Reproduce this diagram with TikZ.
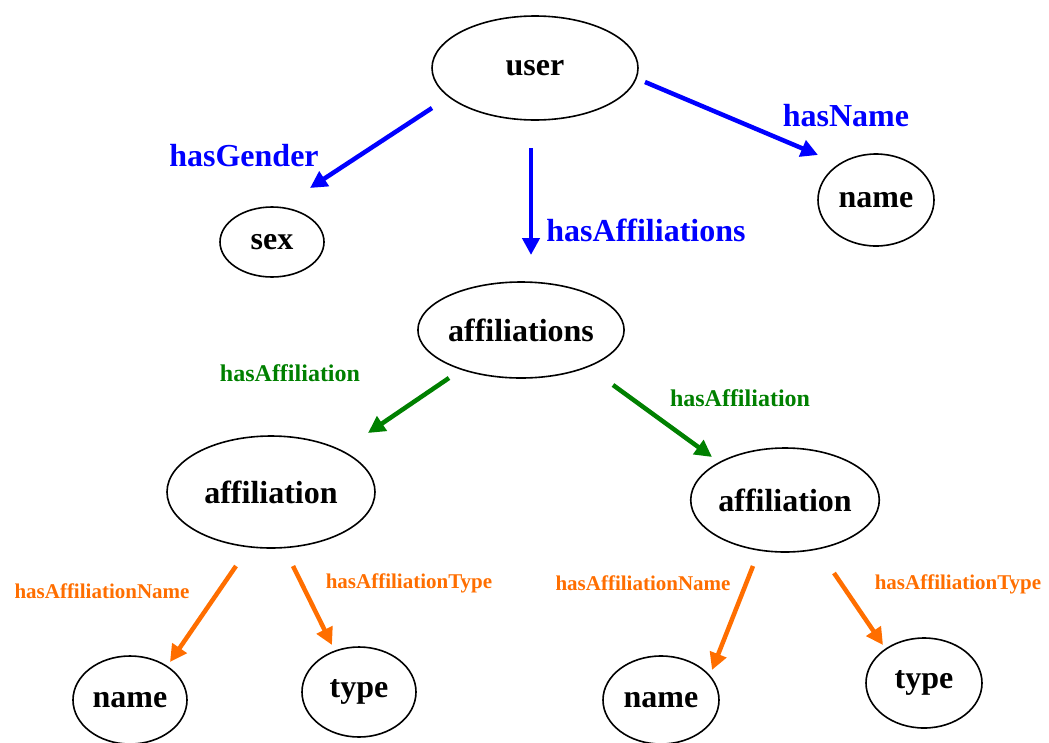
\documentclass[tikz,border=0pt]{standalone}
\usepackage{fontspec}
\setmainfont{Liberation Serif}
\usetikzlibrary{shapes.geometric,arrows.meta,calc}
\definecolor{propblue}{RGB}{0,0,255}
\definecolor{propgreen}{RGB}{0,128,0}
\definecolor{proporange}{RGB}{255,110,0}
\tikzstyle{proplabel} = [
    % fill=white,
    font=\bfseries,
    inner sep=0pt
]

\begin{document}
\begin{tikzpicture}[
        x=1pt, y=-1pt,
        concept/.style n args={2}{
            ellipse, draw=black, line width=1.6pt,
            minimum width=#1,
            minimum height=#2,
            inner sep=0pt,
            font=\fontsize{32}{36}\selectfont\bfseries
        },
        relation/.style={
            -{Triangle[length=17pt,width=17pt]},
            line width=4.5pt, draw=#1
        },
        bigprop/.style={proplabel, text=propblue, font=\fontsize{32}{36}\selectfont\bfseries},
        midprop/.style={proplabel, text=propgreen, font=\fontsize{24}{28}\selectfont\bfseries},
        smallprop/.style={proplabel, text=proporange, font=\fontsize{21}{24}\selectfont\bfseries}
    ]
        \useasboundingbox (0,0) rectangle (1049,742);

        % concepts
        \node[concept={206pt}{104pt}] (user) at (535,68) {user};
        \node[concept={104pt}{70pt}] (sex) at (272,242) {sex};
        \node[concept={116pt}{92pt}] (name) at (876,200) {name};
        \node[concept={196pt}{96pt}] (affs) at (521,330) {affiliations};
        \node[concept={208pt}{112pt}] (affL) at (271,492) {affiliation};
        \node[concept={180pt}{104pt}] (affR) at (785,500) {affiliation};
        \node[concept={114pt}{88pt}] (nameL) at (130,700) {name};
        \node[concept={114pt}{90pt}] (typeL) at (359,692) {type};
        \node[concept={116pt}{88pt}] (nameR) at (661,700) {name};
        \node[concept={116pt}{90pt}] (typeR) at (924,683) {type};

        % properties
        \node[bigprop] (lgender) at (244,156) {hasGender};
        \node[bigprop] (laffs) at (646,230) {hasAffiliations};
        \node[bigprop] (lname) at (846,116) {hasName};
        \node[midprop] (laffL) at (290,373) {hasAffiliation};
        \node[midprop] (laffR) at (740,398) {hasAffiliation};
        \node[smallprop] (lnameL) at (102,591) {hasAffiliationName};
        \node[smallprop] (ltypeL) at (409,583) {hasAffiliationType};
        \node[smallprop] (lnameR) at (643,583) {hasAffiliationName};
        \node[smallprop] (ltypeR) at (958,584) {hasAffiliationType};

        \draw[relation=propblue] ($(user)+(-103,40)$) -- ($(sex)+(38,-54)$);
        \draw[relation=propblue] ($(user)+(-4,80)$) -- ($(affs)+(10,-75)$);
        \draw[relation=propblue] ($(user)+(110,14)$) -- ($(name)+(-58,-45)$);
        \draw[relation=propgreen] ($(affs)+(-72,48)$) -- ($(affL)+(97,-59)$);
        \draw[relation=propgreen] ($(affs)+(92,55)$) -- ($(affR)+(-73,-43)$);
        \draw[relation=proporange] ($(affL)+(-35,74)$) -- ($(nameL)+(40,-38)$);
        \draw[relation=proporange] ($(affL)+(22,74)$) -- ($(typeL)+(-27,-47)$);
        \draw[relation=proporange] ($(affR)+(-32,66)$) -- ($(nameR)+(51,-30)$);
        \draw[relation=proporange] ($(affR)+(49,73)$) -- ($(typeR)+(-41,-38)$);
    \end{tikzpicture}
\end{document}
